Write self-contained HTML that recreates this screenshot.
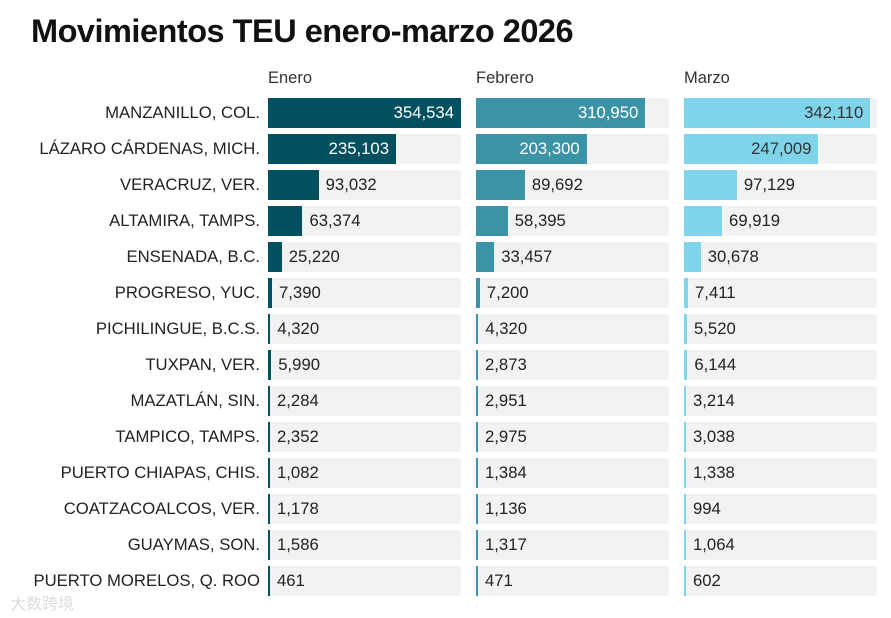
<!DOCTYPE html>
<html><head><meta charset="utf-8"><style>
body{margin:0;background:#fff;font-family:"Liberation Sans","Noto Sans CJK SC",sans-serif;}
#wrap{position:relative;width:891px;height:618px;overflow:hidden}
h1{position:absolute;left:31px;top:13px;margin:0;font-size:32.5px;font-weight:bold;color:#111;letter-spacing:-0.5px}
.hdr{position:absolute;top:69px;font-size:16.5px;color:#333}
.lab{position:absolute;right:631px;font-size:16.7px;color:#222;white-space:nowrap;text-align:right;line-height:30px}
.bg{position:absolute;height:30px;background:#f2f2f2}
.bar{position:absolute;height:30px}
.val{position:absolute;font-size:16.7px;line-height:30px;white-space:nowrap}
</style></head><body><div id="wrap">
<h1>Movimientos TEU enero-marzo 2026</h1>
<div class="hdr" style="left:268px">Enero</div>
<div class="hdr" style="left:476px">Febrero</div>
<div class="hdr" style="left:684px">Marzo</div>
<div style="position:absolute;left:10px;top:590px;font-size:16px;color:#ddd">大数跨境</div>
</div>
<script>
const ports=["MANZANILLO, COL.","LÁZARO CÁRDENAS, MICH.","VERACRUZ, VER.","ALTAMIRA, TAMPS.","ENSENADA, B.C.","PROGRESO, YUC.","PICHILINGUE, B.C.S.","TUXPAN, VER.","MAZATLÁN, SIN.","TAMPICO, TAMPS.","PUERTO CHIAPAS, CHIS.","COATZACOALCOS, VER.","GUAYMAS, SON.","PUERTO MORELOS, Q. ROO"];
const enero=[354534,235103,93032,63374,25220,7390,4320,5990,2284,2352,1082,1178,1586,461];
const febrero=[310950,203300,89692,58395,33457,7200,4320,2873,2951,2975,1384,1136,1317,471];
const marzo=[342110,247009,97129,69919,30678,7411,5520,6144,3214,3038,1338,994,1064,602];
const series=[{name:"enero",vals:enero,x:268,color:"#00505f",inside:"#fff"},{name:"febrero",vals:febrero,x:476,color:"#3b93a6",inside:"#fff"},{name:"marzo",vals:marzo,x:684,color:"#80d4ea",inside:"#333"}];
const W=193,maxV=354534;
const sx=v=>Math.max(2,v/maxV*W);
const ry=i=>98+i*36;
const wrap=document.getElementById('wrap');
const fmt=v=>v.toLocaleString('en-US');
ports.forEach((p,i)=>{
  const l=document.createElement('div');l.className='lab';l.style.top=ry(i)+'px';l.textContent=p;
  
  
  wrap.appendChild(l);
  series.forEach(s=>{
    const bg=document.createElement('div');bg.className='bg';bg.style.left=s.x+'px';bg.style.top=ry(i)+'px';bg.style.width=W+'px';
    
    
    wrap.appendChild(bg);
    const w=sx(s.vals[i]);
    const b=document.createElement('div');b.className='bar';b.style.left=s.x+'px';b.style.top=ry(i)+'px';b.style.width=w+'px';b.style.background=s.color;
    
    
    wrap.appendChild(b);
    const t=document.createElement('div');t.className='val';t.style.top=ry(i)+'px';t.textContent=fmt(s.vals[i]);
    
    
    if(w>100){t.style.right=(891-(s.x+w)+7)+'px';t.style.color=s.inside;}
    else{t.style.left=(s.x+w+7)+'px';t.style.color='#222';}
    wrap.appendChild(t);
  });
});
</script></body></html>
